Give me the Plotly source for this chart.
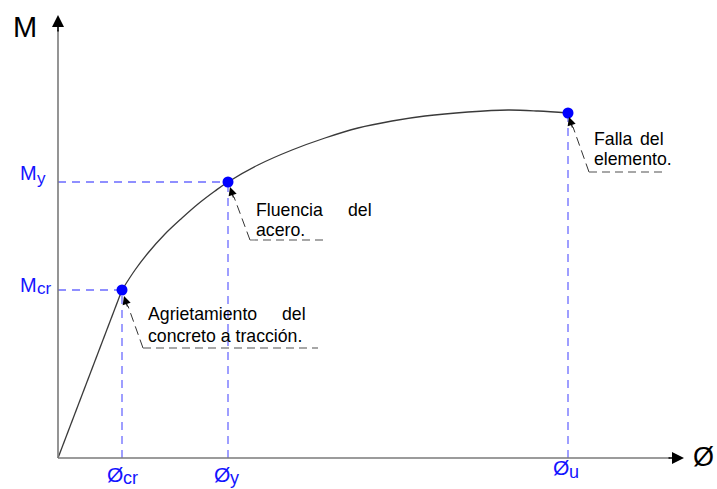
import plotly.graph_objects as go

# ---------------- data (chart units: origin at the axes corner) ----------------
elastic_phi = [0, 64]
elastic_M = [0, 168]

curve_phi = [64, 77, 90, 107, 124, 140, 157, 170, 200, 234, 267, 300, 334, 367, 410, 450, 480, 510]
curve_M = [168, 188, 205, 224, 240, 254, 267, 276, 293, 308, 320, 330, 337, 342, 346, 348, 347, 345]

point_names = ["cr", "y", "u"]
point_phi = [64, 170, 510]
point_M = [168, 276, 345]

y_tick_main = ["M", "M"]
y_tick_sub = ["y", "cr"]
x_tick_main = ["Ø", "Ø", "Ø"]
x_tick_sub = ["cr", "y", "u"]

notes_line1 = [("Agrietamiento", "del"), ("Fluencia", "del"), ("Falla", "del")]
notes_line2 = ["concreto a tracción.", "acero.", "elemento."]

# ---------------- layout helpers ----------------
W, H = 717, 489
OX, OY = 58, 458          # pixel position of the origin


def X(px):
    return px - OX


def Y(py):
    return OY - py


FONT = "Arial, Liberation Sans, sans-serif"
BLUE = "#1414ff"
GUIDE = "#6b6bff"
NOTE_SIZE = 17.7

fig = go.Figure()

# curve
fig.add_trace(go.Scatter(x=elastic_phi, y=elastic_M, mode="lines",
                         line=dict(color="#3a3a3a", width=1.3), hoverinfo="skip"))
fig.add_trace(go.Scatter(x=curve_phi, y=curve_M, mode="lines",
                         line=dict(color="#3a3a3a", width=1.3, shape="spline", smoothing=1),
                         hoverinfo="skip"))

shapes = []
# guide lines (from the points)
for i, (px_, pm_) in enumerate(zip(point_phi, point_M)):
    shapes.append(dict(type="line", x0=px_, x1=px_, y0=0, y1=pm_,
                       line=dict(color=GUIDE, width=1.3, dash="8px,6px"), layer="below"))
    if point_names[i] in ("cr", "y"):
        shapes.append(dict(type="line", x0=0, x1=px_, y0=pm_, y1=pm_,
                           line=dict(color=GUIDE, width=1.3, dash="8px,6px"), layer="below"))

# axes lines
shapes.append(dict(type="line", x0=0, x1=0, y0=0, y1=Y(30), line=dict(color="#7a7a7a", width=1.6)))
shapes.append(dict(type="line", x0=0, x1=X(670), y0=0, y1=0, line=dict(color="#7a7a7a", width=1.6)))

# note leaders + underlines
leaders = [  # tail (px), underline end px
    ((143, 348), 318),
    ((250, 240), 328),
    ((589, 172), 667),
]
tips = [(124, 296), (230, 187), (569, 117)]
for (tail, uend), tip in zip(leaders, tips):
    shapes.append(dict(type="line", x0=X(tail[0]), y0=Y(tail[1]), x1=X(tip[0] + 4), y1=Y(tip[1] + 10),
                       line=dict(color="#333333", width=1, dash="9px,5px")))
    shapes.append(dict(type="line", x0=X(tail[0]), y0=Y(tail[1]), x1=X(uend), y1=Y(tail[1]),
                       line=dict(color="#8a8a8a", width=1.3, dash="8px,5px")))

fig.add_trace(go.Scatter(x=point_phi, y=point_M, mode="markers",
                         marker=dict(color="#0000ff", size=11), hoverinfo="skip"))

ann = []


def txt(s, left, base, size, color="black"):
    ann.append(dict(text=s, x=X(left), y=Y(base - 0.35 * size), xref="x", yref="y",
                    xanchor="left", yanchor="middle", showarrow=False,
                    font=dict(family=FONT, size=size, color=color), borderpad=0))


def rtxt(s, right, base, size, color="black"):
    ann.append(dict(text=s, x=X(right), y=Y(base - 0.35 * size), xref="x", yref="y",
                    xanchor="right", yanchor="middle", showarrow=False,
                    font=dict(family=FONT, size=size, color=color), borderpad=0))


def arrow(tip, base, color="black", size=1.6, width=1.2):
    ann.append(dict(x=X(tip[0]), y=Y(tip[1]), ax=X(base[0]), ay=Y(base[1]),
                    xref="x", yref="y", axref="x", ayref="y", text="", showarrow=True,
                    arrowhead=2, arrowsize=size, arrowwidth=width, arrowcolor=color, standoff=0))


# axis arrowheads
arrow((58, 15), (58, 33), size=1.5, width=1.6)
arrow((684, 458), (667, 458), size=1.5, width=1.6)

# leader arrowheads
for (tail, uend), tip in zip(leaders, tips):
    arrow(tip, (tip[0] + 4, tip[1] + 12), size=1.4, width=1.2)

# axis titles
txt("M", 12, 37, 29)
txt("Ø", 692, 466, 27)

# y tick labels
txt(y_tick_main[0], 19, 180, 20, BLUE)
txt(y_tick_sub[0], 36, 184, 17, BLUE)
txt(y_tick_main[1], 19, 292, 20, BLUE)
txt(y_tick_sub[1], 36, 294, 17, BLUE)

# x tick labels
txt(x_tick_main[0], 106, 482, 21, BLUE)
txt(x_tick_sub[0], 122, 484, 18, BLUE)
txt(x_tick_main[1], 213, 482, 21, BLUE)
txt(x_tick_sub[1], 229, 484, 18, BLUE)
txt(x_tick_main[2], 552, 475, 21, BLUE)
txt(x_tick_sub[2], 568, 478, 18, BLUE)

# notes (justified first lines)
note_pos = [(147, 320, 307, 342), (255, 216, 373, 236), (593, 145, 665, 165)]
for (w1, w2), l2, (left, b1, right, b2) in zip(notes_line1, notes_line2, note_pos):
    txt(w1, left, b1, NOTE_SIZE)
    rtxt(w2, right, b1, NOTE_SIZE)
    txt(l2, left, b2, NOTE_SIZE)

fig.update_layout(
    width=W, height=H, margin=dict(l=0, r=0, t=0, b=0),
    paper_bgcolor="white", plot_bgcolor="white", showlegend=False,
    xaxis=dict(range=[-OX, W - OX], visible=False, fixedrange=True),
    yaxis=dict(range=[OY - H, OY], visible=False, fixedrange=True),
    shapes=shapes, annotations=ann,
)

fig.write_html("out.html", config={"displayModeBar": False},
               post_script="document.body.style.margin='0';document.body.style.overflow='hidden';")
